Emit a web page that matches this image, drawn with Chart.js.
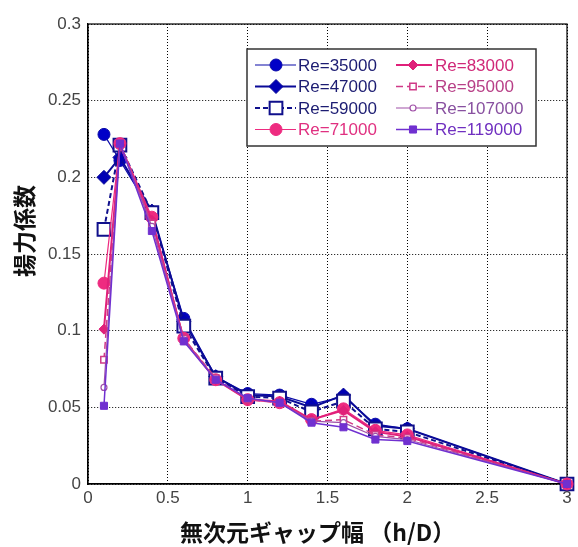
<!DOCTYPE html>
<html>
<head>
<meta charset="utf-8">
<script src="https://cdn.jsdelivr.net/npm/chart.js@4/dist/chart.umd.min.js"></script>
<style>
  body { margin: 0; background: #fff; }
  #wrap { width: 578px; height: 547px; }
</style>
</head>
<body>
<div id="wrap"><canvas id="myChart" width="578" height="547"></canvas></div>
<script>
// gap ratio h/D
const gapRatio = [0.1, 0.2, 0.4, 0.6, 0.8, 1.0, 1.2, 1.4, 1.6, 1.8, 2.0, 3.0];

// lift coefficient per Reynolds number
const re35000  = [0.228, 0.211, 0.177, 0.108, 0.070, 0.059, 0.058, 0.052, 0.057, 0.039, 0.036, 0];
const re47000  = [0.200, 0.213, 0.178, 0.106, 0.070, 0.058, 0.057, 0.050, 0.058, 0.038, 0.036, 0];
const re59000  = [0.166, 0.221, 0.177, 0.103, 0.069, 0.057, 0.056, 0.047, 0.054, 0.036, 0.034, 0];
const re71000  = [0.131, 0.222, 0.174, 0.095, 0.068, 0.055, 0.053, 0.042, 0.049, 0.035, 0.032, 0];
const re83000  = [0.101, 0.221, 0.172, 0.094, 0.068, 0.055, 0.054, 0.042, 0.048, 0.034, 0.031, 0];
const re95000  = [0.081, 0.222, 0.170, 0.095, 0.069, 0.055, 0.053, 0.041, 0.042, 0.032, 0.030, 0];
const re107000 = [0.063, 0.222, 0.168, 0.094, 0.068, 0.056, 0.053, 0.041, 0.040, 0.031, 0.029, 0];
const re119000 = [0.051, 0.222, 0.165, 0.093, 0.068, 0.056, 0.053, 0.040, 0.037, 0.029, 0.028, 0];

const seriesNames = ['Re=35000', 'Re=47000', 'Re=59000', 'Re=71000',
                     'Re=83000', 'Re=95000', 'Re=107000', 'Re=119000'];
const seriesValues = [re35000, re47000, re59000, re71000, re83000, re95000, re107000, re119000];

const yTicks = [0, 0.05, 0.1, 0.15, 0.2, 0.25, 0.3];
const xTicks = [0, 0.5, 1, 1.5, 2, 2.5, 3];
const yTitle = '揚力係数';
const xTitle = '無次元ギャップ幅 （h/D）';

// look of each series
const styles = [
  { color: '#0a0aa8', text: '#1c1c72', point: 'circle',  r: 6,   fill: '#0000c8', bw: 1,   lw: 1.2, dash: [] },
  { color: '#0a0a98', text: '#1c1c72', point: 'rectRot', r: 7,   fill: '#0000b4', bw: 1,   lw: 2,   dash: [] },
  { color: '#10108c', text: '#1c1c72', point: 'rect',    r: 9,   fill: '#ffffff', bw: 2,   lw: 2,   dash: [5, 3] },
  { color: '#ee2b80', text: '#e03080', point: 'circle',  r: 6,   fill: '#ee2b80', bw: 1,   lw: 1.2, dash: [] },
  { color: '#e0207a', text: '#d02878', point: 'rectRot', r: 5,   fill: '#e0207a', bw: 1,   lw: 2,   dash: [] },
  { color: '#d03a88', text: '#b84088', point: 'rect',    r: 4.5, fill: '#ffffff', bw: 1.5, lw: 1.5, dash: [7, 4] },
  { color: '#a050a8', text: '#8850a0', point: 'circle',  r: 3,   fill: '#ffffff', bw: 1.2, lw: 1.2, dash: [] },
  { color: '#7030d0', text: '#7030c0', point: 'rect',    r: 5,   fill: '#7030d0', bw: 1,   lw: 1.5, dash: [] }
];

const datasets = seriesNames.map((name, i) => ({
  label: name,
  data: gapRatio.map((x, k) => ({ x: x, y: seriesValues[i][k] })),
  borderColor: styles[i].color,
  borderWidth: styles[i].lw,
  borderDash: styles[i].dash,
  pointStyle: styles[i].point,
  pointRadius: styles[i].r,
  pointBackgroundColor: styles[i].fill,
  pointBorderColor: styles[i].color,
  pointBorderWidth: styles[i].bw,
  tension: 0,
  clip: false,
  order: seriesNames.length - i
}));

// frame, axis titles and the boxed legend inside the plot
const extras = {
  id: 'extras',
  beforeDatasetsDraw(chart) {
    const { ctx, chartArea: a } = chart;
    ctx.save();
    ctx.strokeStyle = '#000';
    ctx.lineWidth = 1.2;
    ctx.strokeRect(a.left, a.top, a.right - a.left, a.bottom - a.top);
    ctx.restore();
  },
  afterDatasetsDraw(chart) {
    const { ctx } = chart;
    ctx.save();
    // legend box
    const bx = 247, by = 49, bw = 289, bh = 97;
    ctx.fillStyle = '#fff';
    ctx.fillRect(bx, by, bw, bh);
    ctx.strokeStyle = '#333';
    ctx.lineWidth = 1.5;
    ctx.strokeRect(bx, by, bw, bh);
    ctx.font = '17px "Liberation Sans", Arial, sans-serif';
    ctx.textBaseline = 'middle';
    ctx.textAlign = 'left';
    styles.forEach((s, i) => {
      const col = i < 4 ? 0 : 1;
      const row = i % 4;
      const y = 65 + row * 21.5;
      const x0 = col === 0 ? 255 : 396;
      const x1 = col === 0 ? 296 : 432;
      const mx = col === 0 ? 276 : 413;
      ctx.strokeStyle = s.color;
      ctx.lineWidth = s.lw;
      ctx.setLineDash(s.dash);
      ctx.beginPath();
      ctx.moveTo(x0, y);
      ctx.lineTo(x1, y);
      ctx.stroke();
      ctx.setLineDash([]);
      ctx.fillStyle = s.fill;
      ctx.strokeStyle = s.color;
      ctx.lineWidth = s.bw;
      Chart.helpers.drawPoint(ctx, { pointStyle: s.point, radius: s.r, borderWidth: s.bw, rotation: 0 }, mx, y);
      ctx.fillStyle = s.text;
      ctx.fillText(seriesNames[i], col === 0 ? 298 : 435, y + 1);
    });
    // axis titles
    ctx.fillStyle = '#111';
    ctx.font = 'bold 23px "Noto Sans CJK JP", sans-serif';
    ctx.textAlign = 'left';
    ctx.fillText(xTitle, 180, 532);
    ctx.translate(24, 231);
    ctx.rotate(-Math.PI / 2);
    ctx.textAlign = 'center';
    ctx.fillText(yTitle, 0, 0);
    ctx.restore();
  }
};

const tickFont = { family: '"Liberation Sans", Arial, sans-serif', size: 17 };

const config = {
  type: 'line',
  data: { datasets },
  options: {
    responsive: false,
    animation: false,
    events: [],
    layout: { padding: { top: 24, right: 3, bottom: 0, left: 0 } },
    plugins: {
      legend: { display: false },
      tooltip: { enabled: false }
    },
    scales: {
      x: {
        type: 'linear',
        min: 0,
        max: 3,
        afterBuildTicks: s => { s.ticks = xTicks.map(v => ({ value: v })); },
        afterFit: s => { s.height = 63; s.paddingLeft = 0; s.paddingRight = 0; },
        ticks: {
          padding: 4,
          color: '#444',
          font: tickFont,
          maxRotation: 0,
          callback: v => String(v)
        },
        grid: { color: '#000', lineWidth: 1, drawTicks: false },
        border: { display: true, color: '#000', width: 1.2, dash: [1, 2] }
      },
      y: {
        min: 0,
        max: 0.3,
        afterBuildTicks: s => { s.ticks = yTicks.map(v => ({ value: v })); },
        afterFit: s => { s.width = 88; s.paddingTop = 0; s.paddingBottom = 0; },
        ticks: {
          padding: 7,
          color: '#444',
          font: tickFont,
          callback: v => String(+v.toFixed(2))
        },
        grid: { color: '#000', lineWidth: 1, drawTicks: false },
        border: { display: true, color: '#000', width: 1.2, dash: [1, 2] }
      }
    }
  },
  plugins: [extras]
};

const myChart = new Chart(document.getElementById('myChart'), config);
</script>
</body>
</html>
